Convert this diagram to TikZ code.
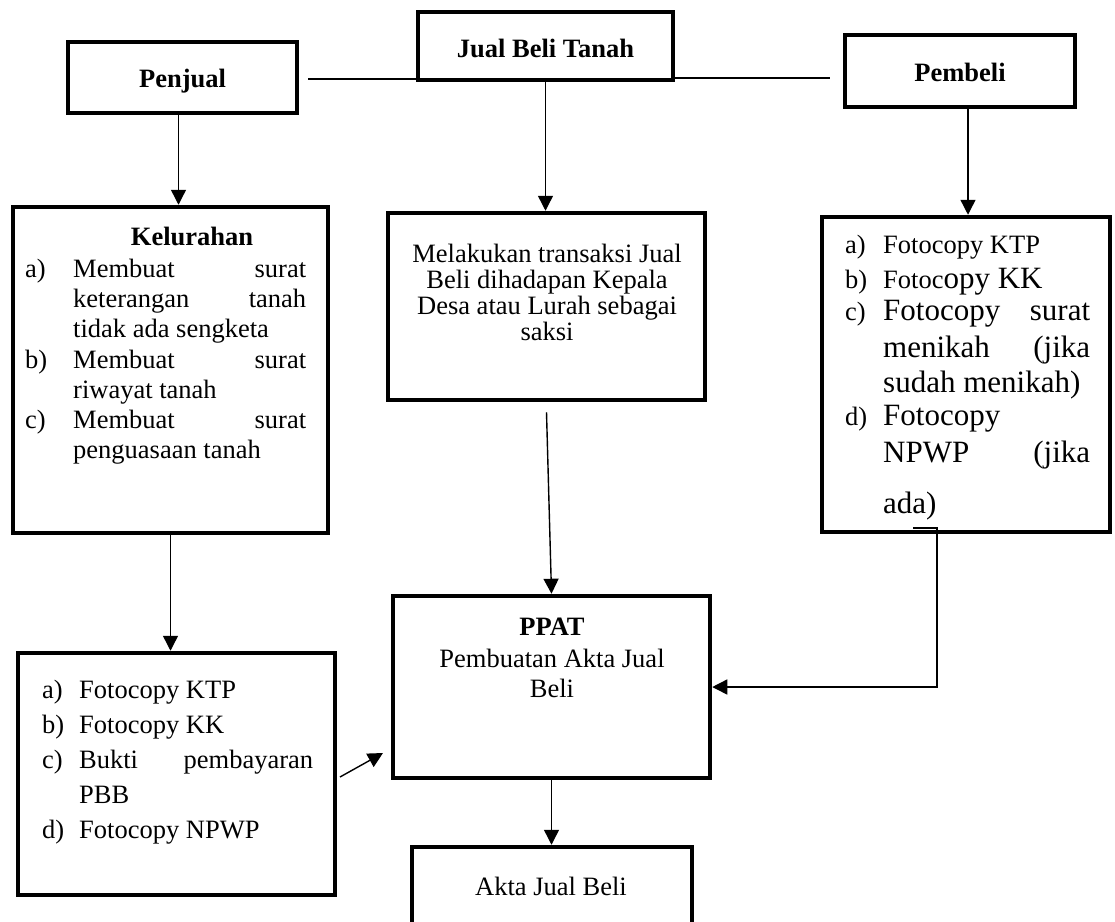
\documentclass[tikz,border=0pt]{standalone}
\usepackage{fontspec}
\setmainfont{Liberation Serif}
\usetikzlibrary{arrows.meta}
\begin{document}
\begin{tikzpicture}[x=1pt,y=-1pt,
  box/.style={draw, line width=4.5pt, inner sep=0pt},
  t/.style={inner sep=0pt, anchor=base west, font=\fontsize{26.5}{30}\selectfont},
  tc/.style={t, anchor=base},
  tb/.style={tc, font=\fontsize{26.5}{30}\selectfont\bfseries},
  tl/.style={t, font=\fontsize{31}{35}\selectfont},
  conn/.style={line width=1.4pt},
  arr/.style={conn, -{Triangle[width=15pt,length=15pt]}}]
\useasboundingbox (0,0) rectangle (1115,921);
\clip (0,0) rectangle (1115,921);

% boxes
\node[box, minimum width=255pt, minimum height=68pt] (jb) at (545.5,46) {};
\node[box, minimum width=229pt, minimum height=71pt] (penjual) at (182.5,77.5) {};
\node[box, minimum width=230pt, minimum height=72pt] (pembeli) at (960,71) {};
\node[box, minimum width=315pt, minimum height=326pt] (kel) at (170.5,370) {};
\node[box, minimum width=317pt, minimum height=187pt] (mel) at (546.5,306.5) {};
\node[box, minimum width=288pt, minimum height=315pt] (pdocs) at (966,374.5) {};
\node[box, minimum width=317pt, minimum height=242pt] (ldocs) at (176.5,774) {};
\node[box, minimum width=317pt, minimum height=182pt] (ppat) at (551.5,687) {};
\node[box, minimum width=280pt, minimum height=113pt] (akta) at (552,903.5) {};

% titles
\node[tb] (tjb) at (545.5,57) {Jual Beli Tanah};
\node[tb] (tpj) at (182.5,87) {Penjual};
\node[tb] (tpb) at (960,81) {Pembeli};

% Kelurahan
\node[tb] (k0) at (192,245) {Kelurahan};
\node[t] (k1l) at (25,277) {a)};
\node[t] (k1) at (73,277) {\makebox[233pt][l]{Membuat\hfill surat}};
\node[t] (k2) at (73,307) {\makebox[233pt][l]{keterangan\hfill tanah}};
\node[t] (k3) at (73,337) {tidak ada sengketa};
\node[t] (k4l) at (25,368) {b)};
\node[t] (k4) at (73,368) {\makebox[233pt][l]{Membuat\hfill surat}};
\node[t] (k5) at (73,398) {riwayat tanah};
\node[t] (k6l) at (25,428) {c)};
\node[t] (k6) at (73,428) {\makebox[233pt][l]{Membuat\hfill surat}};
\node[t] (k7) at (73,458) {penguasaan tanah};

% Melakukan
\node[tc] (m1) at (547,262) {Melakukan transaksi Jual};
\node[tc] (m2) at (547,288) {Beli dihadapan Kepala};
\node[tc] (m3) at (547,314) {Desa atau Lurah sebagai};
\node[tc] (m4) at (547,340) {saksi};

% Pembeli documents
\node[t] (p1l) at (845,253) {a)};
\node[t] (p1) at (883,253) {Fotocopy KTP};
\node[t] (p2l) at (845,288) {b)};
\node[t] (p2) at (883,288) {Fotoc{\fontsize{31}{35}\selectfont opy KK}};
\node[t] (p3l) at (845,320) {c)};
\node[tl] (p3) at (883,320) {\makebox[207pt][l]{Fotocopy\hfill surat}};
\node[tl] (p4) at (883,357) {\makebox[207pt][l]{menikah\hfill (jika}};
\node[tl] (p5) at (883,392) {sudah menikah)};
\node[t] (p6l) at (845,425) {d)};
\node[tl] (p6) at (883,425) {Fotocopy};
\node[tl] (p7) at (883,462) {\makebox[207pt][l]{NPWP\hfill (jika}};
\node[tl] (p8) at (883,513) {ada)};

% left documents
\node[t] (l1l) at (42,698) {a)};
\node[t] (l1) at (79,698) {Fotocopy KTP};
\node[t] (l2l) at (42,733) {b)};
\node[t] (l2) at (79,733) {Fotocopy KK};
\node[t] (l3l) at (42,768) {c)};
\node[t] (l3) at (79,768) {\makebox[234pt][l]{Bukti\hfill pembayaran}};
\node[t] (l4) at (79,803) {PBB};
\node[t] (l5l) at (42,838) {d)};
\node[t] (l5) at (79,838) {Fotocopy NPWP};

% PPAT and Akta
\node[tb] (pp0) at (552,635) {PPAT};
\node[tc] (pp1) at (552,667) {Pembuatan Akta Jual};
\node[tc] (pp2) at (552,697) {Beli};
\node[tc] (ak) at (551,895) {Akta Jual Beli};

% connectors
\draw[conn] ([xshift=9pt]penjual.east |- 0,79) -- (jb.west |- 0,79);
\draw[conn] (jb.east |- 0,78) -- ([xshift=-13pt]pembeli.west |- 0,78);
\draw[arr] ([xshift=-4pt]penjual.south) -- ([xshift=-4pt]penjual.south |- kel.north);
\draw[arr] (jb.south) -- (jb.south |- mel.north);
\draw[arr] ([xshift=8pt]pembeli.south) -- ([xshift=8pt]pembeli.south |- pdocs.north);
\draw[arr] (kel.south) -- (kel.south |- ldocs.north);
\draw[arr] ([yshift=-10pt]mel.south) -- (ppat.north);
\coordinate (pd1) at (937,528);
\draw[arr] ([xshift=-24pt]pd1) -- (pd1) |- (ppat.east);
\coordinate (ld1) at (340,777);
\coordinate (ld2) at (383,753);
\draw[arr] (ld1) -- (ld2);
\draw[arr] (ppat.south) -- (ppat.south |- akta.north);
\end{tikzpicture}
\end{document}
